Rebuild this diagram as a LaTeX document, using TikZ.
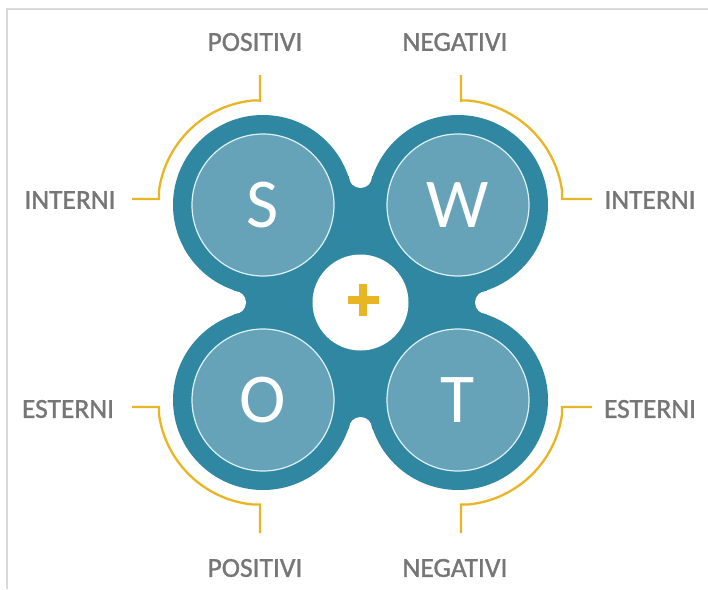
\documentclass[tikz,border=0pt]{standalone}
\usepackage{fontspec}
\setmainfont{Carlito}
\newfontfamily\lblfont[FakeBold=1.2]{Carlito}
\usetikzlibrary{calc}
\definecolor{tealdark}{HTML}{2F87A2}
\definecolor{teallight}{HTML}{66A3B9}
\definecolor{ringline}{HTML}{DDF2F8}
\definecolor{goldc}{HTML}{E8B624}
\definecolor{labelgray}{HTML}{767676}
\definecolor{framec}{HTML}{D9D9D9}
\begin{document}
\begin{tikzpicture}[x=1pt,y=-1pt,
  innerc/.style={circle, minimum size=142pt, inner sep=0pt, fill=teallight, draw=ringline, line width=1.2pt, text=white, font=\fontsize{70}{70}\selectfont},
  lbl/.style={text=labelgray, inner sep=0pt, font=\lblfont\fontsize{27.5}{30}\selectfont},
  bracket/.style={draw=goldc, line width=2.3pt},
  notch/.style={fill=white}]
\useasboundingbox (0,0) rectangle (708,589);
\fill[white] (0,0) rectangle (708,589);
\draw[framec, line width=1.5pt] (7,589) -- (7,9) -- (708,9);
% centres
\coordinate (S) at (263,205);
\coordinate (W) at (458,205);
\coordinate (O) at (263,400);
\coordinate (T) at (458,400);
\coordinate (M) at (360.5,302.5);
% dark body
\fill[tealdark] (263,176.4) rectangle (458,428.6);
\fill[tealdark] (234.4,205) rectangle (486.6,400);
\fill[notch] (360.5,176.4) circle[radius=11.6];
\fill[notch] (360.5,428.6) circle[radius=11.6];
\fill[notch] (234.4,302.5) circle[radius=11.6];
\fill[notch] (486.6,302.5) circle[radius=11.6];
\foreach \c in {S,W,O,T} \fill[tealdark] (\c) circle[radius=90];
% inner circles
\node[innerc] (s) at (S) {S};
\node[innerc] (w) at (W) {W};
\node[innerc] (o) at (O) {O};
\node[innerc] (t) at (T) {T};
% centre
\node[circle, fill=white, minimum size=96pt, inner sep=0pt] (c) at (M) {};
\draw[goldc, line width=8pt] (347.5,300) -- (379,300);
\draw[goldc, line width=8pt] (363,284) -- (363,316);
% brackets
\draw[bracket] (132,199) -- (159,199) -- ($(S)+(-172:105)$) arc[start angle=-172, end angle=-96, radius=105] -- (260,100.6) -- (260,75);
\draw[bracket] (461,75) -- (461,100.6) -- ($(W)+(-84:105)$) arc[start angle=-84, end angle=-8, radius=105] -- (562,199) -- (592,199);
\draw[bracket] (132,407) -- (159,407) -- ($(O)+(172:105)$) arc[start angle=172, end angle=96, radius=105] -- (260,504.4) -- (260,533);
\draw[bracket] (461,533) -- (461,504.4) -- ($(T)+(84:105)$) arc[start angle=84, end angle=8, radius=105] -- (562,407) -- (592,407);
% labels
\node[lbl] (pt) at (255,42) {POSITIVI};
\node[lbl] (nt) at (455,42) {NEGATIVI};
\node[lbl] (pb) at (255,568) {POSITIVI};
\node[lbl] (nb) at (455,568) {NEGATIVI};
\node[lbl] (il) at (70,200) {INTERNI};
\node[lbl] (ir) at (650,200) {INTERNI};
\node[lbl] (el) at (68,409) {ESTERNI};
\node[lbl] (er) at (650,409) {ESTERNI};
\end{tikzpicture}
\end{document}
